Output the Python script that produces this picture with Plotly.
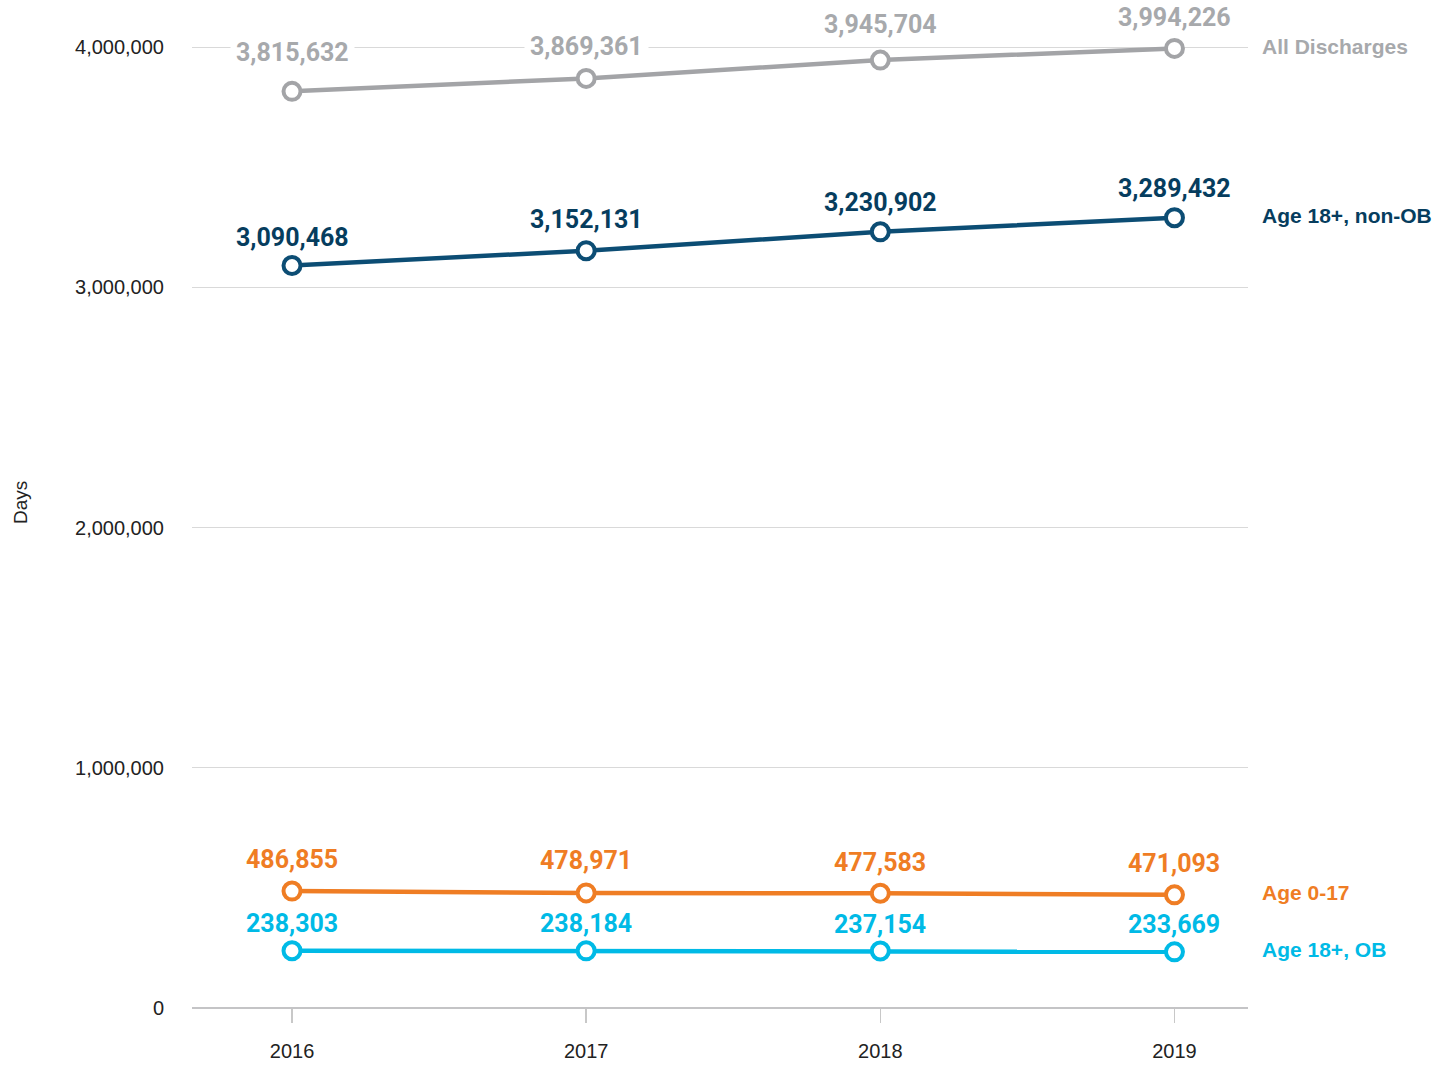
import plotly.graph_objects as go

years = [2016, 2017, 2018, 2019]
all_discharges = [3815632, 3869361, 3945704, 3994226]
age18_nonob = [3090468, 3152131, 3230902, 3289432]
age0_17 = [486855, 478971, 477583, 471093]
age18_ob = [238303, 238184, 237154, 233669]

# (name, values, line colour, text colour, label y-offsets in px, white label background)
series = [
    ("All Discharges", all_discharges, "#a3a4a7", "#a7a9ac", [39, 32, 36, 31], True),
    ("Age 18+, non-OB", age18_nonob, "#0c4d74", "#063d5e", [28, 31, 29, 29], False),
    ("Age 0-17", age0_17, "#ef7d24", "#ef7d24", [32, 32, 31, 31], False),
    ("Age 18+, OB", age18_ob, "#00bae6", "#00bae6", [27, 27, 27, 27], False),
]

y_ticks = [0, 1000000, 2000000, 3000000, 4000000]
y_ticktext = ["0", "1,000,000", "2,000,000", "3,000,000", "4,000,000"]
y_max = 4004200  # a bit above the top tick so its gridline is drawn

# plot area: x 192..1248, y 46..1008 (4,000,000 gridline at ~47)
L, T = 192, 46
PW, PH = 1056, 962
W, H = 1439, 1065
R, B = W - L - PW, H - T - PH

fig = go.Figure()
annotations = []
for name, vals, lc, tc, shifts, bg in series:
    fig.add_trace(go.Scatter(
        x=years, y=vals, mode="lines+markers", name=name,
        line=dict(color=lc, width=4.5),
        marker=dict(symbol="circle", size=17, color="white",
                    line=dict(color=lc, width=4)),
        cliponaxis=False, showlegend=False, hoverinfo="skip",
    ))
    for x, v, s in zip(years, vals, shifts):
        annotations.append(dict(
            x=x, y=v, xref="x", yref="y", text=f"<b>{v:,}</b>", showarrow=False,
            yshift=s, font=dict(family="Roboto", size=25, color=tc),
            bgcolor="white" if bg else None, borderpad=5 if bg else 0,
        ))
    annotations.append(dict(
        x=(1260 - L) / PW, xref="paper", y=vals[-1], yref="y", text=f"<b>{name}</b>",
        showarrow=False, xanchor="left", yanchor="middle", yshift=2,
        font=dict(family="Liberation Sans, Arial", size=21, color=tc),
    ))

annotations.append(dict(
    x=(20 - L) / PW, xref="paper", y=(1008 - 503) / PH, yref="paper", text="Days",
    xanchor="center", yanchor="middle",
    showarrow=False, textangle=-90, font=dict(family="Liberation Sans, Arial", size=19, color="#222"),
))

fig.update_layout(
    width=W, height=H,
    margin=dict(l=L, r=R, t=T, b=B),
    paper_bgcolor="white", plot_bgcolor="white",
    annotations=annotations,
    hovermode=False,
    xaxis=dict(
        range=[2015.66, 2019.25], tickvals=years, ticktext=[str(y) for y in years],
        showgrid=False, zeroline=False, showline=False,
        ticks="outside", ticklen=14, tickwidth=1.5, tickcolor="#c8c8c8",
        tickfont=dict(family="Liberation Sans, Arial", size=20, color="#222"),
        ticklabelstandoff=11, automargin=False,
    ),
    yaxis=dict(
        range=[0, y_max], tickvals=y_ticks, ticktext=y_ticktext,
        showgrid=True, gridcolor="#d9d9d9", gridwidth=1,
        zeroline=True, zerolinecolor="#c4c4c6", zerolinewidth=2.5,
        showline=False, ticks="",
        tickfont=dict(family="Liberation Sans, Arial", size=20, color="#222"),
        ticklabelstandoff=27, automargin=False,
    ),
)

fig.write_html(
    "out.html",
    config={"displayModeBar": False, "staticPlot": True},
    post_script="document.body.style.margin='0';document.body.style.overflow='hidden';",
)
